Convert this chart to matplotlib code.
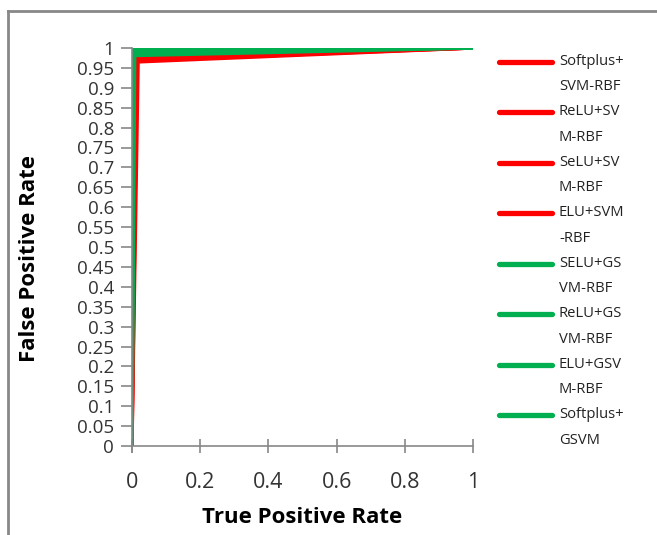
import numpy as np
import matplotlib.pyplot as plt
from matplotlib.lines import Line2D
from matplotlib.legend_handler import HandlerLine2D

plt.rcParams['font.family'] = ['Open Sans', 'DejaVu Sans']

# ROC points (x = true positive rate axis, y = false positive rate axis as labelled)
labels = ["Softplus+\nSVM-RBF", "ReLU+SV\nM-RBF", "SeLU+SV\nM-RBF", "ELU+SVM\n-RBF",
          "SELU+GS\nVM-RBF", "ReLU+GS\nVM-RBF", "ELU+GSV\nM-RBF", "Softplus+\nGSVM"]
x_pts = [[0, 0.018, 1], [0, 0.015, 1], [0, 0.012, 1], [0, 0.010, 1],
         [0, 0.008, 1], [0, 0.006, 1], [0, 0.004, 1], [0, 0.002, 1]]
y_pts = [[0, 0.965, 1], [0, 0.968, 1], [0, 0.972, 1], [0, 0.975, 1],
         [0, 0.981, 1], [0, 0.986, 1], [0, 0.991, 1], [0, 0.996, 1]]
colors = ["#FF0000"] * 4 + ["#00B050"] * 4

xticks = [0, 0.2, 0.4, 0.6, 0.8, 1]
yticks = np.round(np.arange(0, 1.0001, 0.05), 2)


class UpperLine(HandlerLine2D):
    # put the legend line beside the first line of a two-line label
    def create_artists(self, legend, orig_handle, xdescent, ydescent,
                       width, height, fontsize, trans):
        arts = super().create_artists(legend, orig_handle, xdescent, ydescent,
                                      width, height, fontsize, trans)
        for a in arts:
            a.set_ydata(np.asarray(a.get_ydata()) + fontsize * 0.85)
        return arts


fig = plt.figure(figsize=(6.57, 5.35), dpi=100)
ax = fig.add_axes([132 / 657, 1 - 446 / 535, 341 / 657, 398 / 535])

for xs, ys, c, lab in zip(x_pts, y_pts, colors, labels):
    ax.plot(xs, ys, color=c, linewidth=2.4, label=lab, solid_joinstyle='miter')

ax.set_xlim(0, 1)
ax.set_ylim(0, 1)
ax.set_xticks(xticks)
ax.set_xticklabels(['%g' % v for v in xticks])
ax.set_yticks(yticks)
ax.set_yticklabels(['%g' % v for v in yticks])

for s in ['top', 'right']:
    ax.spines[s].set_visible(False)
for s in ['left', 'bottom']:
    ax.spines[s].set_color('#888888')
    ax.spines[s].set_linewidth(1.2)
ax.spines['left'].set_bounds(-0.015, 1)

ax.tick_params(axis='x', direction='inout', length=10, color='#888888', width=1.2,
               labelsize=15.5, labelcolor='#333333', pad=14)
ax.tick_params(axis='y', direction='out', length=8, color='#888888', width=1.2,
               labelsize=13.5, labelcolor='#333333', pad=5)

ax.set_xlabel("True Positive Rate", fontsize=16, fontweight='bold', labelpad=10)
ax.set_ylabel("False Positive Rate", fontsize=16, fontweight='bold')
ax.yaxis.set_label_coords(-0.27, 0.47)

leg = ax.legend(loc='upper left', bbox_to_anchor=(1.06, 1.0), frameon=False,
                fontsize=10.6, handlelength=3.6, handletextpad=0.45,
                labelspacing=0.68, borderaxespad=0,
                handler_map={Line2D: UpperLine()})
for t in leg.get_texts():
    t.set_color('#222222')
    t.set_linespacing(1.95)
for h in leg.legend_handles:
    h.set_linewidth(3.8)
    h.set_solid_capstyle('round')

# outer chart border (partly visible, cropped)
fig.add_artist(Line2D([8 / 657, 8 / 657], [0, 1 - 11 / 535], color='#888888',
                      linewidth=2, transform=fig.transFigure))
fig.add_artist(Line2D([8 / 657, 1], [1 - 11 / 535, 1 - 11 / 535], color='#888888',
                      linewidth=2, transform=fig.transFigure))

fig.savefig("out.png", dpi=100)
